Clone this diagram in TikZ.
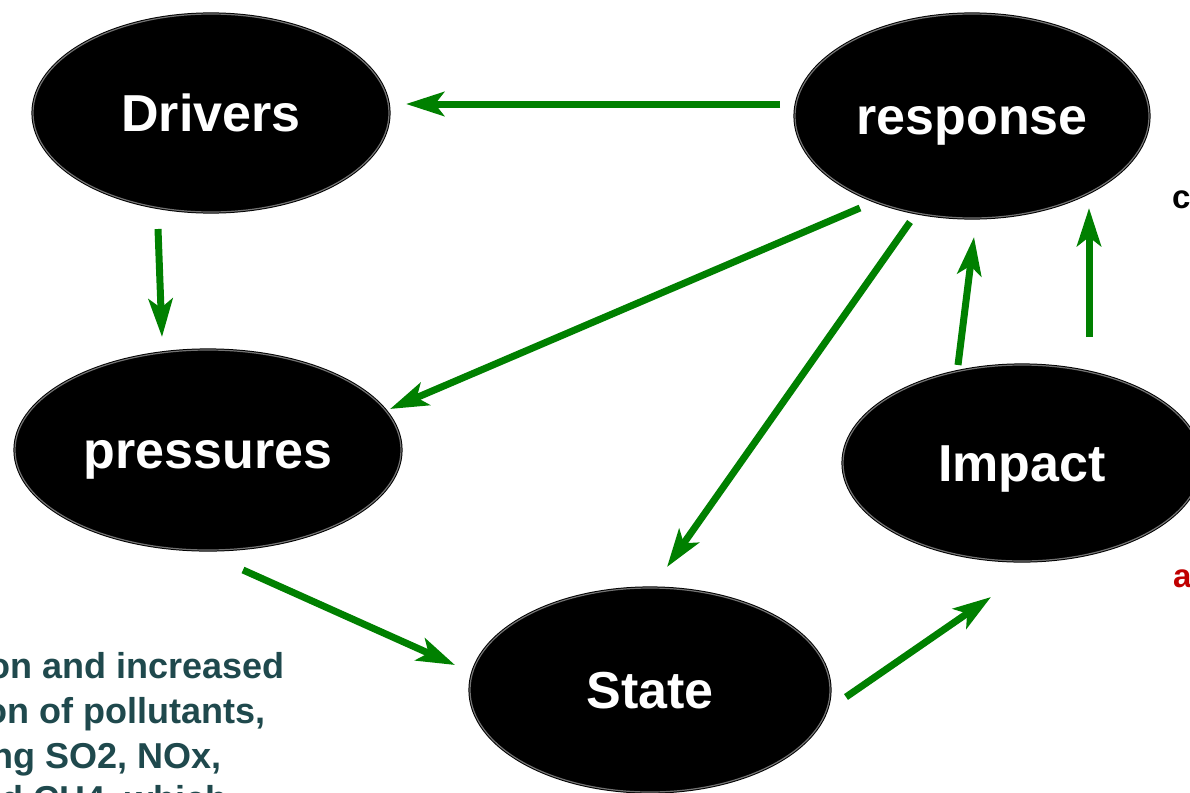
\documentclass[tikz,border=0pt]{standalone}
\usepackage{fontspec}
\setmainfont{Liberation Sans}
\usetikzlibrary{arrows.meta,shapes.geometric,calc}
\definecolor{arrgreen}{RGB}{0,128,0}
\definecolor{tealtext}{RGB}{31,73,77}
\definecolor{darkred}{RGB}{192,0,0}
\begin{document}
\begin{tikzpicture}[x=1pt,y=-1pt,
  blob/.style={ellipse, fill=black, draw=black, double=black!55, double distance=1.2pt,
    line width=1pt, inner sep=0pt, text=white,
    font=\fontsize{52}{60}\selectfont\bfseries, text height=37pt, text depth=0pt},
  arr/.style={draw=arrgreen, line width=7pt, -{Stealth[length=38pt,width=24pt,inset=9pt]}},
  side/.style={inner sep=0pt, anchor=base east, text=tealtext,
    font=\fontsize{36}{44}\selectfont\bfseries},
  edge/.style={inner sep=0pt, anchor=base west, font=\fontsize{33}{40}\selectfont\bfseries}
]
\clip (0,0) rectangle (1190,792);
\fill[white] (0,0) rectangle (1190,792);

% text at bottom left (clipped by the picture's edges)
\node[side] (t1) at (285,678) {ion and increased};
\node[side] (t2) at (266,723) {ion of pollutants,};
\node[side] (t3) at (222,768) {ing SO2, NOx,};
\node[side] (t4) at (228,811) {and CH4, which};

% text cut at the right edge
\node[edge, text=black] (tc) at (1172,208) {c};
\node[edge, text=darkred] (ta) at (1173,587) {a};

% ellipses
\node[blob, minimum width=356pt, minimum height=198pt] (drv) at (211,113) {Drivers};
\node[blob, minimum width=354pt, minimum height=204pt] (resp) at (972,116) {response};
\node[blob, minimum width=386pt, minimum height=200pt] (pres) at (208,450) {pressures};
\node[blob, minimum width=358pt, minimum height=196pt] (imp) at (1022,463) {Impact};
\node[blob, minimum width=360pt, minimum height=204pt] (state) at (650,690) {State};

% connectors
\draw[arr] ($(resp)+(-192,-12)$) -- ($(drv)+(195,-9)$);
\draw[arr] ($(drv)+(-53,116)$) -- ($(pres)+(-46,-113)$);
\draw[arr] ($(resp)+(-112,92)$) -- ($(pres)+(182,-41)$);
\draw[arr] ($(resp)+(-62,106)$) -- ($(state)+(17,-123)$);
\draw[arr] ($(pres)+(35,120)$) -- ($(state)+(-195,-25)$);
\draw[arr] ($(state)+(196,7)$) -- ($(imp)+(-31,134)$);
\draw[arr] ($(imp)+(-64,-98)$) -- ($(resp)+(2,121)$);
\draw[arr] ($(imp)+(67,-126)$) -- ($(resp)+(117,92)$);
\end{tikzpicture}
\end{document}
